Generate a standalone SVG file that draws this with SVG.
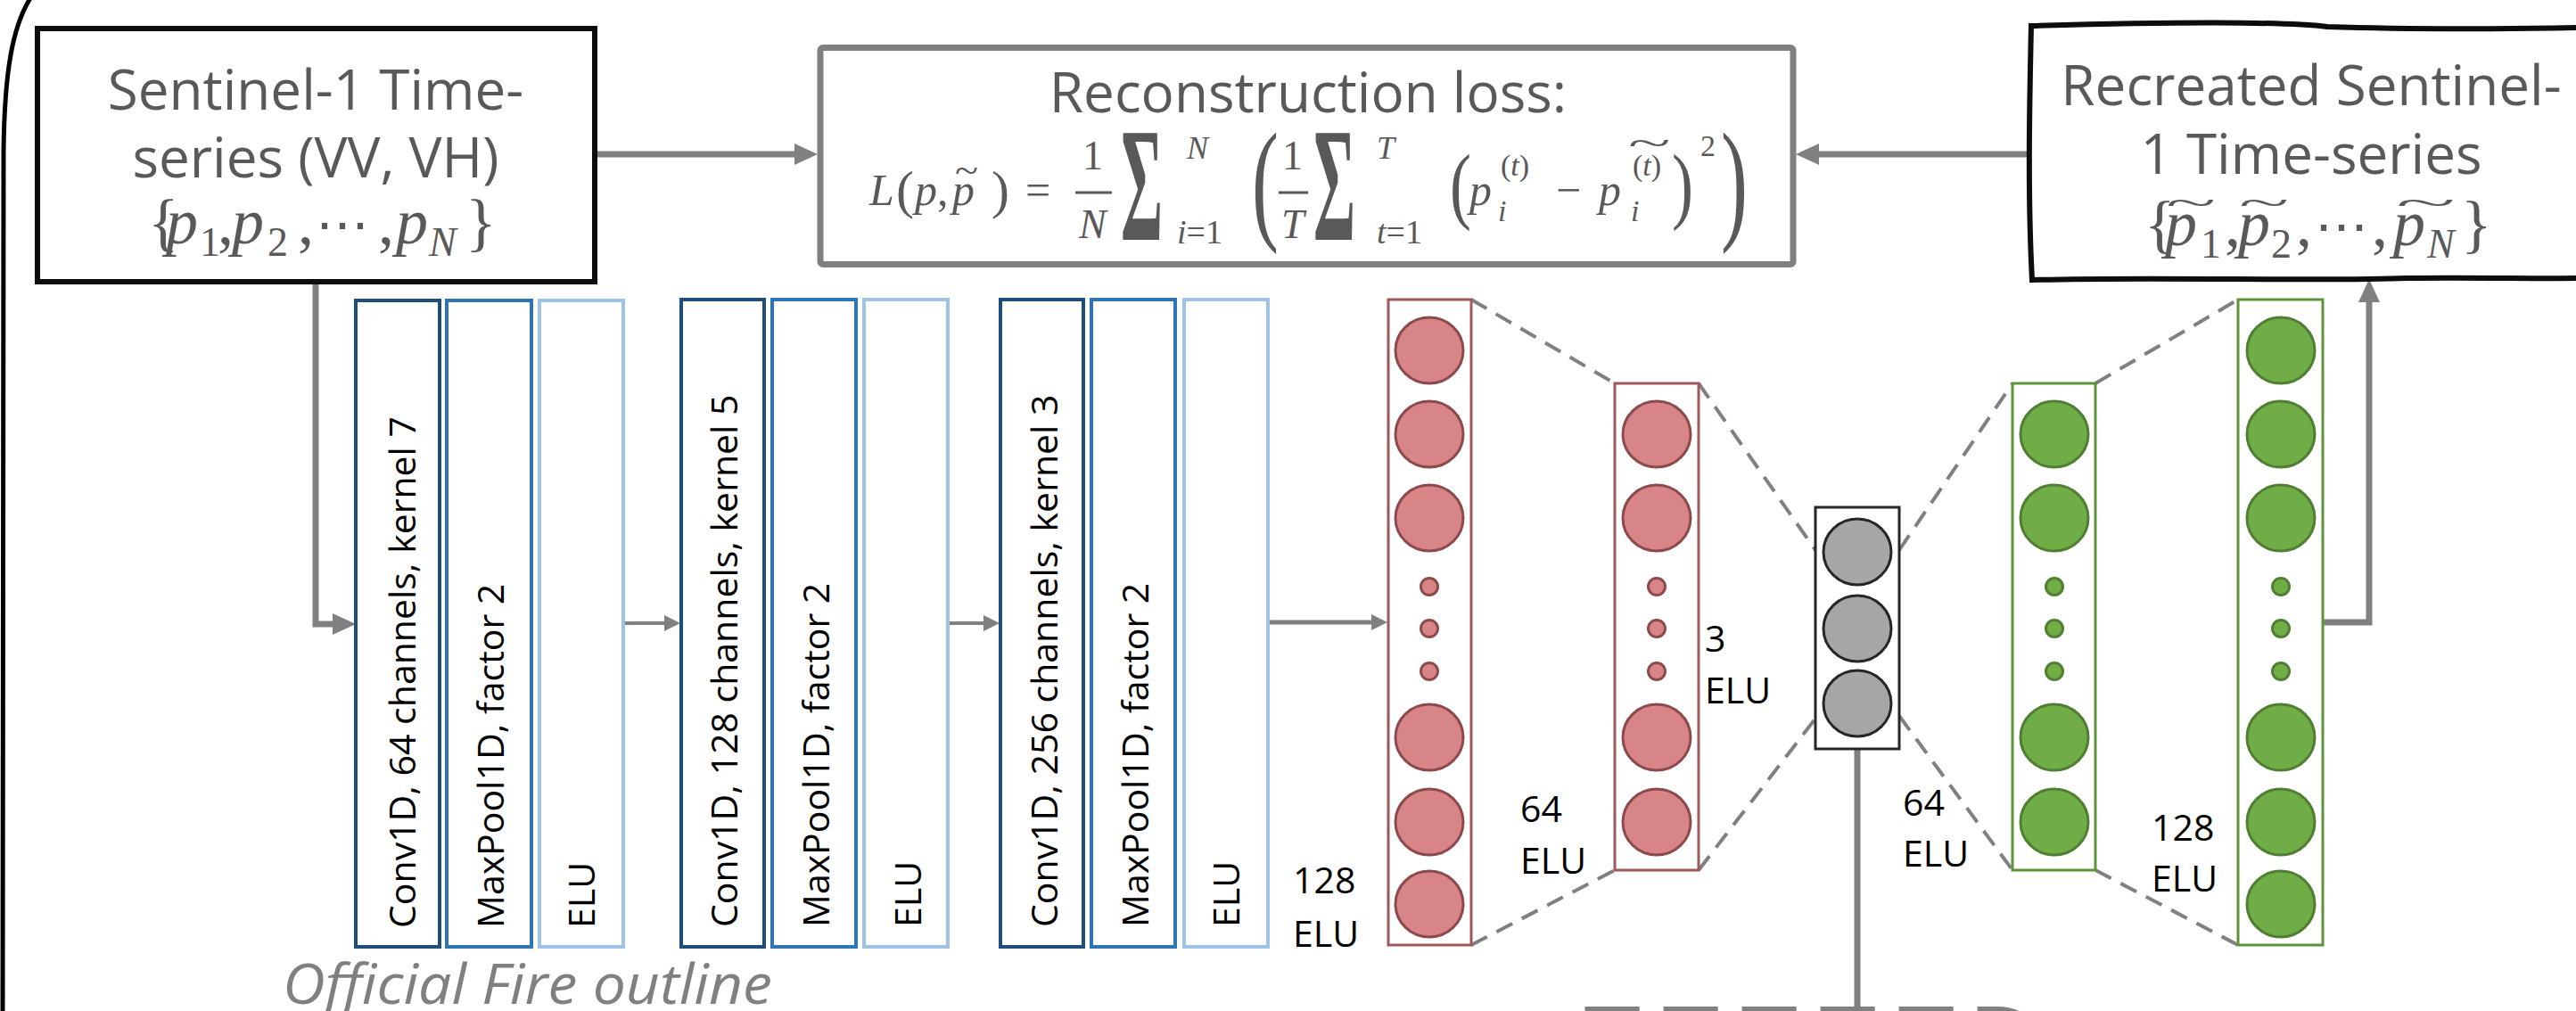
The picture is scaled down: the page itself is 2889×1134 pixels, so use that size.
<svg xmlns="http://www.w3.org/2000/svg" width="2889" height="1134" viewBox="0 0 2889 1134">
<style>
.title{font-family:"Open Sans","Liberation Sans",sans-serif;font-size:62px;fill:#595959;text-anchor:middle}
.lbl{font-family:"Open Sans","Liberation Sans",sans-serif;font-size:41px;fill:#000}
.rot{font-family:"Open Sans","Liberation Sans",sans-serif;font-size:41px;fill:#000}
.m{font-family:"Liberation Serif","DejaVu Serif",serif;fill:#595959}
.mi{font-style:italic}
.blk{fill:#fff;stroke-width:4}
.conv{stroke:#1F4E79}
.pool{stroke:#2E75B6}
.elu{stroke:#9DC3E6}
.rbox{fill:#fff;stroke:#A0595B;stroke-width:3}
.rc{fill:#D88587;stroke:#8C4A4C;stroke-width:3}
.gbox{fill:#fff;stroke:#5E9438;stroke-width:3}
.gc{fill:#70AD47;stroke:#507E32;stroke-width:3}
.dash{stroke:#808080;stroke-width:4;stroke-dasharray:20 12;fill:none}
.conn{stroke:#808080;fill:none}
</style>
<defs>
<marker id="ah" markerUnits="userSpaceOnUse" markerWidth="26" markerHeight="24" refX="18" refY="12" orient="auto"><path d="M0,0 L26,12 L0,24 Z" fill="#808080"/></marker>
<marker id="ahs" markerUnits="userSpaceOnUse" markerWidth="18" markerHeight="18" refX="13" refY="9" orient="auto"><path d="M0,0 L18,9 L0,18 Z" fill="#808080"/></marker>
</defs>
<rect width="2889" height="1134" fill="#fff"/>

<g id="frame">
<path d="M34,-2 C14,30 5,80 4,170 L3,1140" fill="none" stroke="#000" stroke-width="5"/>
</g>

<g id="connectors">
<path class="conn" stroke-width="7" d="M667,173 H909" marker-end="url(#ah)"/>
<path class="conn" stroke-width="7" d="M2278,173 H2022" marker-end="url(#ah)"/>
<path class="conn" stroke-width="7" d="M354,317 V700 H391" marker-end="url(#ah)"/>
<path class="conn" stroke-width="4" d="M699,699 H758" marker-end="url(#ahs)"/>
<path class="conn" stroke-width="4" d="M1063,699 H1116" marker-end="url(#ahs)"/>
<path class="conn" stroke-width="5" d="M1422,698 H1551" marker-end="url(#ahs)"/>
<path class="conn" stroke-width="7" d="M2605,698 H2657 V321" marker-end="url(#ah)"/>
<path class="conn" stroke-width="7" d="M2083,840 V1131"/>
<path class="dash" d="M1650,336 L1811,430"/>
<path class="dash" d="M1650,1060 L1811,976"/>
<path class="dash" d="M1905,430 L2036,617"/>
<path class="dash" d="M1905,976 L2036,806"/>
<path class="dash" d="M2130,617 L2257,430"/>
<path class="dash" d="M2130,803 L2257,976"/>
<path class="dash" d="M2350,430 L2510,336"/>
<path class="dash" d="M2350,976 L2510,1060"/>
</g>

<g id="box-input">
<rect x="42" y="32" width="625" height="284" fill="#fff" stroke="#0D0D0D" stroke-width="6"/>
<text class="title" x="354" y="123">Sentinel-1 Time-</text>
<text class="title" x="354" y="199">series (VV, VH)</text>
<g class="m" font-size="72">
<text x="166" y="273">{</text>
<text class="mi" x="186" y="273">p</text>
<text x="224" y="287" font-size="46">1</text>
<text x="244" y="273">,</text>
<text class="mi" x="260" y="273">p</text>
<text x="300" y="287" font-size="46">2</text>
<text x="334" y="273">,</text>
<text x="354" y="273" font-size="60" font-family="DejaVu Serif">⋯</text>
<text x="424" y="273">,</text>
<text class="mi" x="444" y="273">p</text>
<text class="mi" x="481" y="287" font-size="46">N</text>
<text x="522" y="273">}</text>
</g>
</g>

<g id="box-loss">
<rect x="920" y="53.5" width="1091" height="243" rx="3" fill="#fff" stroke="#808080" stroke-width="7"/>
<text class="title" x="1467" y="126">Reconstruction loss:</text>
<g class="m" font-size="50">
<text class="mi" x="975" y="230">L</text>
<text x="1005" y="233" font-size="60">(</text>
<text class="mi" x="1026" y="230">p</text>
<text x="1051" y="230">,</text>
<text class="mi" x="1068" y="230">p</text>
<text transform="translate(1071,205) scale(1.2,1)" font-size="40">~</text>
<text x="1112" y="233" font-size="60">)</text>
<text x="1150" y="230">=</text>
<text x="1214" y="190" font-size="46">1</text>
<text class="mi" x="1210" y="267" font-size="46">N</text>
<text transform="translate(1257,269) scale(0.72,1.82)" font-size="100" font-weight="bold">Σ</text>
<text class="mi" x="1331" y="178" font-size="36">N</text>
<text x="1320" y="273" font-size="38"><tspan class="mi">i</tspan>=1</text>
<text transform="translate(1404,253) scale(0.9,1.5)" font-size="100">(</text>
<text x="1438" y="190" font-size="46">1</text>
<text class="mi" x="1437" y="267" font-size="46">T</text>
<text transform="translate(1473,269) scale(0.72,1.82)" font-size="100" font-weight="bold">Σ</text>
<text class="mi" x="1544" y="178" font-size="36">T</text>
<text x="1544" y="273" font-size="38"><tspan class="mi">t</tspan>=1</text>
<text transform="translate(1626,239) scale(0.75,1)" font-size="96">(</text>
<text class="mi" x="1648" y="230">p</text>
<text x="1683" y="197" font-size="34">(<tspan class="mi">t</tspan>)</text>
<text class="mi" x="1680" y="248" font-size="34">i</text>
<text x="1745" y="230">−</text>
<text class="mi" x="1793" y="230">p</text>
<text x="1831" y="197" font-size="34">(<tspan class="mi">t</tspan>)</text>
<text transform="translate(1826,174) scale(2.2,1)" font-size="40">~</text>
<text class="mi" x="1829" y="248" font-size="34">i</text>
<text transform="translate(1875,239) scale(0.75,1)" font-size="96">)</text>
<text x="1907" y="175" font-size="34">2</text>
<text transform="translate(1930,253) scale(0.9,1.5)" font-size="100">)</text>
</g>
<line x1="1206" y1="216" x2="1247" y2="216" stroke="#595959" stroke-width="3"/>
<line x1="1434" y1="216" x2="1467" y2="216" stroke="#595959" stroke-width="3"/>
</g>

<g id="box-output">
<path d="M2895,31 C2780,33 2700,33 2610,30 C2560,24 2420,25 2278,29 C2276,120 2274,220 2279,314 C2420,310 2600,316 2700,312 C2780,311 2850,313 2895,312" fill="#fff" stroke="#0D0D0D" stroke-width="6"/>
<text class="title" x="2592" y="118">Recreated Sentinel-</text>
<text class="title" x="2592" y="195">1 Time-series</text>
<g class="m" font-size="72">
<text x="2405" y="275">{</text>
<text class="mi" x="2428" y="275">p</text>
<text transform="translate(2429,241) scale(2.6,1)" font-size="40">~</text>
<text x="2468" y="289" font-size="46">1</text>
<text x="2495" y="275">,</text>
<text class="mi" x="2510" y="275">p</text>
<text transform="translate(2511,241) scale(2.6,1)" font-size="40">~</text>
<text x="2547" y="289" font-size="46">2</text>
<text x="2575" y="275">,</text>
<text x="2596" y="275" font-size="60" font-family="DejaVu Serif">⋯</text>
<text x="2660" y="275">,</text>
<text class="mi" x="2684" y="275">p</text>
<text transform="translate(2687,241) scale(3.1,1)" font-size="40">~</text>
<text class="mi" x="2722" y="289" font-size="46">N</text>
<text x="2760" y="275">}</text>
</g>
</g>

<g id="conv1"><rect class="blk conv" x="399" y="337" width="94" height="725"/><text class="rot" transform="translate(466,1041) rotate(-90)">Conv1D, 64 channels, kernel 7</text></g>
<g id="pool1"><rect class="blk pool" x="501" y="337" width="95" height="725"/><text class="rot" transform="translate(565,1041) rotate(-90)">MaxPool1D, factor 2</text></g>
<g id="elu1"><rect class="blk elu" x="605" y="337" width="94" height="725"/><text class="rot" transform="translate(667,1041) rotate(-90)">ELU</text></g>
<g id="conv2"><rect class="blk conv" x="764" y="336" width="93" height="726"/><text class="rot" transform="translate(827,1040) rotate(-90)">Conv1D, 128 channels, kernel 5</text></g>
<g id="pool2"><rect class="blk pool" x="866" y="336" width="94" height="726"/><text class="rot" transform="translate(930,1040) rotate(-90)">MaxPool1D, factor 2</text></g>
<g id="elu2"><rect class="blk elu" x="969" y="336" width="94" height="726"/><text class="rot" transform="translate(1033,1040) rotate(-90)">ELU</text></g>
<g id="conv3"><rect class="blk conv" x="1122" y="336" width="93" height="726"/><text class="rot" transform="translate(1186,1040) rotate(-90)">Conv1D, 256 channels, kernel 3</text></g>
<g id="pool3"><rect class="blk pool" x="1224" y="336" width="94" height="726"/><text class="rot" transform="translate(1288,1040) rotate(-90)">MaxPool1D, factor 2</text></g>
<g id="elu3"><rect class="blk elu" x="1328" y="336" width="94" height="726"/><text class="rot" transform="translate(1390,1040) rotate(-90)">ELU</text></g>

<g id="enc128">
<rect class="rbox" x="1557" y="336" width="93" height="724"/>
<ellipse class="rc" cx="1603" cy="393" rx="38" ry="37"/>
<ellipse class="rc" cx="1603" cy="487" rx="38" ry="37"/>
<ellipse class="rc" cx="1603" cy="581" rx="38" ry="37"/>
<circle class="rc" cx="1603" cy="658" r="9.5"/>
<circle class="rc" cx="1603" cy="705" r="9.5"/>
<circle class="rc" cx="1603" cy="753" r="9.5"/>
<ellipse class="rc" cx="1603" cy="827" rx="38" ry="37"/>
<ellipse class="rc" cx="1603" cy="922" rx="38" ry="37"/>
<ellipse class="rc" cx="1603" cy="1014" rx="38" ry="37"/>
<text class="lbl" x="1450" y="1002">128</text>
<text class="lbl" x="1450" y="1062">ELU</text>
</g>

<g id="enc64">
<rect class="rbox" x="1811" y="430" width="94" height="546"/>
<ellipse class="rc" cx="1858" cy="487" rx="38" ry="37"/>
<ellipse class="rc" cx="1858" cy="581" rx="38" ry="37"/>
<circle class="rc" cx="1858" cy="658" r="9.5"/>
<circle class="rc" cx="1858" cy="705" r="9.5"/>
<circle class="rc" cx="1858" cy="753" r="9.5"/>
<ellipse class="rc" cx="1858" cy="827" rx="38" ry="37"/>
<ellipse class="rc" cx="1858" cy="922" rx="38" ry="37"/>
<text class="lbl" x="1705" y="922">64</text>
<text class="lbl" x="1705" y="980">ELU</text>
</g>

<g id="bottleneck">
<rect x="2036" y="569" width="94" height="271" fill="#fff" stroke="#262626" stroke-width="3"/>
<ellipse cx="2083" cy="619" rx="38" ry="37" fill="#A6A6A6" stroke="#262626" stroke-width="3"/>
<ellipse cx="2083" cy="705" rx="38" ry="37" fill="#A6A6A6" stroke="#262626" stroke-width="3"/>
<ellipse cx="2083" cy="789" rx="38" ry="37" fill="#A6A6A6" stroke="#262626" stroke-width="3"/>
<text class="lbl" x="1912" y="731">3</text>
<text class="lbl" x="1912" y="789">ELU</text>
</g>

<g id="dec64">
<rect class="gbox" x="2257" y="430" width="93" height="546"/>
<ellipse class="gc" cx="2304" cy="487" rx="38" ry="37"/>
<ellipse class="gc" cx="2304" cy="581" rx="38" ry="37"/>
<circle class="gc" cx="2304" cy="658" r="9.5"/>
<circle class="gc" cx="2304" cy="705" r="9.5"/>
<circle class="gc" cx="2304" cy="753" r="9.5"/>
<ellipse class="gc" cx="2304" cy="827" rx="38" ry="37"/>
<ellipse class="gc" cx="2304" cy="922" rx="38" ry="37"/>
<text class="lbl" x="2134" y="915">64</text>
<text class="lbl" x="2134" y="972">ELU</text>
</g>

<g id="dec128">
<rect class="gbox" x="2510" y="336" width="95" height="724"/>
<ellipse class="gc" cx="2558" cy="393" rx="38" ry="37"/>
<ellipse class="gc" cx="2558" cy="487" rx="38" ry="37"/>
<ellipse class="gc" cx="2558" cy="581" rx="38" ry="37"/>
<circle class="gc" cx="2558" cy="658" r="9.5"/>
<circle class="gc" cx="2558" cy="705" r="9.5"/>
<circle class="gc" cx="2558" cy="753" r="9.5"/>
<ellipse class="gc" cx="2558" cy="827" rx="38" ry="37"/>
<ellipse class="gc" cx="2558" cy="922" rx="38" ry="37"/>
<ellipse class="gc" cx="2558" cy="1014" rx="38" ry="37"/>
<text class="lbl" x="2413" y="943">128</text>
<text class="lbl" x="2413" y="1000">ELU</text>
</g>

<g id="bottom-box">
<path d="M1735,1180 A46,45 0 0 1 1781,1135 H2240 A50,45 0 0 1 2290,1180" fill="none" stroke="#808080" stroke-width="12" stroke-dasharray="61 27" stroke-dashoffset="20"/>
</g>

<g id="label-fire">
<text x="317" y="1126" font-family="'Open Sans','Liberation Sans',sans-serif" font-style="italic" font-size="62" fill="#808080" textLength="549" lengthAdjust="spacingAndGlyphs">Official Fire outline</text>
</g>
</svg>
